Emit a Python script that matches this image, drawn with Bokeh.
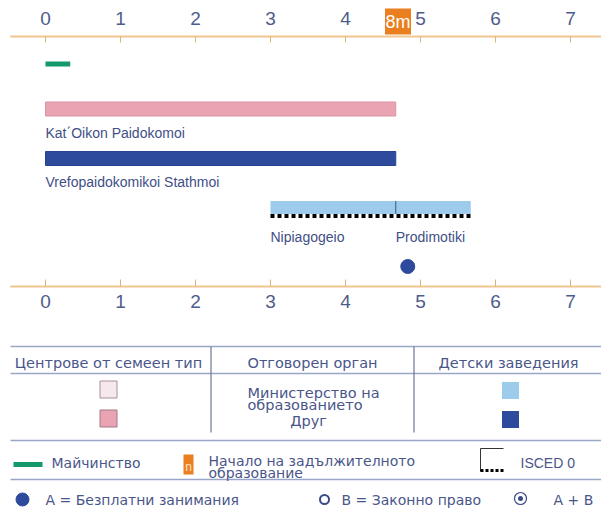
from bokeh.plotting import figure
from bokeh.models import Range1d
from bokeh.core.properties import value
from bokeh.embed import file_html
from bokeh.resources import INLINE

# ---------------- data ----------------
years = [0, 1, 2, 3, 4, 5, 6, 7]
year_labels = ["0", "1", "2", "3", "4", "5", "6", "7"]

compulsory_start = 4.67          # 4 years 8 months
compulsory_label = "8m"

maternity_start = [0]
maternity_end = [0.33]

family_names = ["Kat΄Oikon Paidokomoi"]
family_start = [0]
family_end = [4.67]

creche_names = ["Vrefopaidokomikoi Stathmoi"]
creche_start = [0]
creche_end = [4.67]

school_names = ["Nipiagogeio", "Prodimotiki"]
school_start = [3, 4.67]
school_end = [4.67, 5.67]

isced0_start = [3]
isced0_end = [5.67]

free_attendance_age = [4.83]

header_labels = ["Центрове от семеен тип", "Отговорен орган", "Детски заведения"]

# ---------------- styles ----------------
AXIS_COL = "#EFC68E"
TICK_TXT = "#4E5C8C"
LBL_TXT = "#3F4F86"
TBL_TXT = "#4A5689"
PINK = "#E9A3B3"
PINK_LIGHT = "#F6E9ED"
DARK_BLUE = "#2E4A9C"
LIGHT_BLUE = "#9DCBEB"
GREEN = "#13996B"
ORANGE = "#EA7F1F"
NARROW = value("Liberation Sans")
SANS = value("DejaVu Sans")

W, H = 601, 511
X0 = 45.0     # page x of age 0
PX = 75.0     # pixels per year

p = figure(width=W, height=H, output_backend="svg", toolbar_location=None,
           x_range=Range1d((0 - X0) / PX, (W - X0) / PX),
           y_range=Range1d(H, 0),
           x_axis_location=None, y_axis_location=None,
           min_border=0, outline_line_color=None)
p.grid.visible = False
p.extra_x_ranges = {"px": Range1d(0, W)}

xmin, xmax = p.x_range.start, p.x_range.end

# ---------------- timeline axes ----------------
for (yl, yt0, yt1, ylab) in [(36, 36, 42, 18), (286, 279, 286, 301)]:
    p.segment(x0=[xmin + 0.13], y0=[yl], x1=[xmax], y1=[yl], line_color=AXIS_COL, line_width=2)
    p.segment(x0=years, y0=[yt0] * len(years), x1=years, y1=[yt1] * len(years),
              line_color="#D9B27E", line_width=1)
    p.text(x=years, y=[ylab] * len(years), text=year_labels, text_align="center",
           text_baseline="middle", text_font=NARROW, text_font_size=value("19px"),
           text_color=TICK_TXT)

# compulsory education marker
p.rect(x=[compulsory_start + 0.03], y=[21], width=26, height=26, width_units="screen",
       height_units="screen", fill_color=ORANGE, line_color=None)
p.text(x=[compulsory_start + 0.03], y=[21], text=[compulsory_label], text_align="center",
       text_baseline="middle", text_font=NARROW, text_font_size=value("18px"),
       text_color="white")

# ---------------- bars ----------------
p.hbar(y=[63.5], left=maternity_start, right=maternity_end, height=5,
       fill_color=GREEN, line_color=None)
p.hbar(y=[108.5], left=family_start, right=family_end, height=14,
       fill_color=PINK, line_color="#DC93A4", line_width=1)
p.text(x=family_start, y=[132], text=family_names, text_baseline="middle",
       text_font=NARROW, text_font_size=value("14px"), text_color=LBL_TXT)
p.hbar(y=[158], left=creche_start, right=creche_end, height=14,
       fill_color=DARK_BLUE, line_color="#27428F", line_width=1)
p.text(x=creche_start, y=[181], text=creche_names, text_baseline="middle",
       text_font=NARROW, text_font_size=value("14px"), text_color=LBL_TXT)

p.hbar(y=[207, 207], left=school_start, right=school_end, height=13,
       fill_color=LIGHT_BLUE, line_color=None)
p.segment(x0=school_start[1:], y0=[200.5], x1=school_start[1:], y1=[213.5],
          line_color="#3B5478", line_width=1)
p.segment(x0=isced0_start, y0=[215.5], x1=isced0_end, y1=[215.5],
          line_color="black", line_width=4, line_dash="4 3")
p.text(x=school_start, y=[236, 236], text=school_names, text_baseline="middle",
       text_font=NARROW, text_font_size=value("14px"), text_color=LBL_TXT)

p.scatter(x=free_attendance_age, y=[266], size=14, fill_color=DARK_BLUE,
          line_color=DARK_BLUE)

# ---------------- table / legend ----------------
kw = dict(x_range_name="px")
p.segment(x0=[10, 10, 10, 10], y0=[346, 373, 440, 479], x1=[W] * 4,
          y1=[346, 373, 440, 479], line_color="#9AA6C8", line_width=1.6, **kw)
p.segment(x0=[210.5, 413.5], y0=[346, 346], x1=[210.5, 413.5], y1=[432, 432],
          line_color="#6F7698", line_width=1.2, **kw)

FS = value("14.5px")
p.text(x=[108, 312, 508], y=[362, 362, 362], text=header_labels, text_align="center",
       text_baseline="middle", text_font=SANS, text_font_size=FS,
       text_color=TBL_TXT, **kw)

p.rect(x=[108, 108], y=[389, 418], width=17, height=17, fill_color=[PINK_LIGHT, PINK],
       line_color=["#A99097", "#A47886"], line_width=1, **kw)
p.rect(x=[510, 510], y=[390, 419], width=17, height=17,
       fill_color=[LIGHT_BLUE, DARK_BLUE], line_color=None, **kw)

p.text(x=[247, 247], y=[392, 404], text=["Министерство на", "образованието"],
       text_baseline="middle", text_font=SANS, text_font_size=FS,
       text_color=TBL_TXT, **kw)
p.text(x=[308], y=[420], text=["Друг"], text_align="center",
       text_baseline="middle", text_font=SANS, text_font_size=FS,
       text_color=TBL_TXT, **kw)

# legend row 1
LF = value("14px")
p.segment(x0=[13], y0=[464], x1=[42], y1=[464], line_color=GREEN, line_width=5, **kw)
p.text(x=[51], y=[462], text=["Майчинство"], text_baseline="middle", text_font=SANS,
       text_font_size=LF, text_color=TBL_TXT, **kw)
p.rect(x=[188], y=[464], width=10, height=20, fill_color=ORANGE, line_color=None, **kw)
p.text(x=[188], y=[466], text=["n"], text_align="center", text_baseline="middle",
       text_font=NARROW, text_font_size=value("12px"), text_color="#FBE3C8", **kw)
p.text(x=[208, 208], y=[460, 472], text=["Начало на задължителното", "образование"],
       text_baseline="middle", text_font=SANS, text_font_size=LF,
       text_color=TBL_TXT, **kw)
p.segment(x0=[480, 480], y0=[448, 448], x1=[480, 503], y1=[471, 448],
          line_color="#333333", line_width=1, **kw)
p.segment(x0=[480], y0=[470], x1=[503], y1=[470], line_color="black", line_width=3,
          line_dash="3 2", **kw)
p.text(x=[520], y=[462], text=["ISCED 0"], text_baseline="middle", text_font=NARROW,
       text_font_size=value("14px"), text_color=TBL_TXT, **kw)

# legend row 2
p.scatter(x=[22], y=[499], size=13, fill_color=DARK_BLUE, line_color=DARK_BLUE, **kw)
p.text(x=[45], y=[499], text=["A = Безплатни занимания"], text_baseline="middle",
       text_font=SANS, text_font_size=LF, text_color=TBL_TXT, **kw)
p.scatter(x=[324], y=[499], size=9, fill_color=None, line_color="#3A4A86",
          line_width=2, **kw)
p.text(x=[341], y=[499], text=["B = Законно право"], text_baseline="middle",
       text_font=SANS, text_font_size=LF, text_color=TBL_TXT, **kw)
p.scatter(x=[520], y=[498], size=12, fill_color=None, line_color="#3A4A86",
          line_width=1.2, **kw)
p.scatter(x=[520], y=[498], size=5, fill_color="#3A4A86", line_color=None, **kw)
p.text(x=[553], y=[499], text=["A + B"], text_baseline="middle",
       text_font=SANS, text_font_size=LF, text_color=TBL_TXT, **kw)

open("out.html", "w").write(file_html(p, INLINE))
